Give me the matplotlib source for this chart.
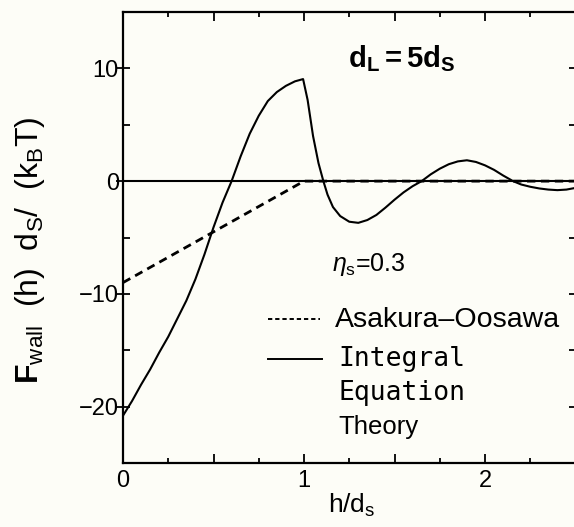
import matplotlib
matplotlib.use("Agg")
import matplotlib.pyplot as plt
from matplotlib.ticker import MultipleLocator, FixedFormatter, FixedLocator

plt.rcParams['font.family'] = ['Liberation Sans', 'DejaVu Sans']
plt.rcParams['mathtext.fontset'] = 'custom'
plt.rcParams['mathtext.rm'] = 'Liberation Sans'
plt.rcParams['mathtext.it'] = 'Liberation Sans:italic'
plt.rcParams['mathtext.bf'] = 'Liberation Sans:bold'

# Integral-equation-theory wall potential (h/d_s, F d_s / kT)
h_iet = [0.00, 0.05, 0.10, 0.15, 0.20, 0.25, 0.30, 0.35, 0.40, 0.45, 0.50,
         0.55, 0.60, 0.65, 0.70, 0.75, 0.80, 0.85, 0.90, 0.95, 0.995,
         1.02, 1.05, 1.08, 1.107, 1.13, 1.16, 1.20, 1.25, 1.30, 1.35, 1.40,
         1.45, 1.50, 1.55, 1.60, 1.65, 1.70, 1.75, 1.80, 1.85, 1.90, 1.95,
         2.00, 2.05, 2.10, 2.155, 2.20, 2.25, 2.30, 2.35, 2.40, 2.45, 2.50]
f_iet = [-20.8, -19.5, -18.05, -16.7, -15.2, -13.8, -12.2, -10.6, -8.7, -6.5, -4.1,
         -1.9, 0.0, 2.2, 4.2, 5.8, 7.1, 7.9, 8.45, 8.85, 9.05,
         7.2, 4.0, 1.6, 0.0, -1.2, -2.3, -3.1, -3.6, -3.7, -3.45, -3.0,
         -2.35, -1.65, -1.0, -0.45, 0.0, 0.6, 1.1, 1.5, 1.75, 1.85, 1.7,
         1.4, 1.0, 0.5, 0.0, -0.3, -0.5, -0.65, -0.75, -0.8, -0.75, -0.6]

# Asakura-Oosawa depletion potential
h_ao = [0.0, 1.0, 2.5]
f_ao = [-9.0, 0.0, 0.0]

x_tick_vals = [0, 1, 2]
x_tick_labels = ['0', '1', '2']
y_tick_vals = [-20, -10, 0, 10]
y_tick_labels = ['-20', '-10', '0', '10']

fig = plt.figure(figsize=(5.74, 5.27), dpi=100, facecolor='#fdfdf7')
ax = fig.add_axes([123/574, 64/527, 452.5/574, 451/527])
ax.set_facecolor('#fdfdf7')

ax.axhline(0, color='black', lw=1.5, zorder=1)
ax.plot(h_iet, f_iet, color='black', lw=1.5, zorder=3, solid_joinstyle='round')
ax.plot(h_ao, f_ao, color='black', lw=2.0, ls=(0, (3, 2)), zorder=2)

ax.set_xlim(0, 2.5)
ax.set_ylim(-25, 15)

ax.xaxis.set_major_locator(MultipleLocator(0.5))
ax.xaxis.set_minor_locator(MultipleLocator(0.25))
ax.set_xticklabels([])
ax.yaxis.set_major_locator(FixedLocator(y_tick_vals))
ax.yaxis.set_major_formatter(FixedFormatter([s.replace('-', '\u2212') for s in y_tick_labels]))
ax.yaxis.set_minor_locator(MultipleLocator(5))

ax.tick_params(axis='x', which='both', direction='in', top=True, bottom=True,
               width=1.3)
ax.tick_params(axis='x', which='major', length=6.5)
ax.tick_params(axis='x', which='minor', length=3.5)
ax.tick_params(axis='y', which='major', direction='inout', left=True, right=True,
               length=10, width=1.3, labelsize=17, pad=-2)
ax.tick_params(axis='y', which='minor', direction='in', left=True, right=True,
               length=5, width=1.3)
for s in ax.spines.values():
    s.set_linewidth(1.6)

# integer x labels
for v, lab in zip(x_tick_vals, x_tick_labels):
    ax.text(v, -25.6, lab, ha='center', va='top', fontsize=17)

ax.text(1.54, 10.9, r'$\mathbf{d_L{=}5d_S}$', fontsize=21,
        ha='center', va='center')
ax.text(1.155, -7.4, r'$\eta_{\rm s}$=0.3', fontsize=18, ha='left', va='center')

# legend
ax.plot([0.80, 1.09], [-12.2, -12.2], color='black', lw=1.4, ls=(0, (2.2, 1.5)))
ax.plot([0.80, 1.10], [-15.8, -15.8], color='black', lw=1.4)
ax.text(1.17, -12.3, 'Asakura\u2013Oosawa', fontsize=20.5, ha='left', va='center')
ax.text(1.19, -15.8, 'Integral', fontsize=19, ha='left', va='center',
        family='DejaVu Sans Mono')
ax.text(1.19, -18.8, 'Equation', fontsize=19, ha='left', va='center',
        family='DejaVu Sans Mono')
ax.text(1.19, -21.8, 'Theory', fontsize=18.5, ha='left', va='center')

fig.text(352/574, 1 - 505/527, r'h/d$_{\rm s}$', fontsize=19, ha='center',
         va='center')
fig.text(30/574, 1 - 250/527,
         r'$\mathbf{F}_{\rm wall}$  (h)  d$_{\rm S}$/  (k$_{\rm B}$T)',
         fontsize=23, rotation=90, ha='center', va='center')

fig.savefig('out.png', dpi=100, facecolor=fig.get_facecolor())
